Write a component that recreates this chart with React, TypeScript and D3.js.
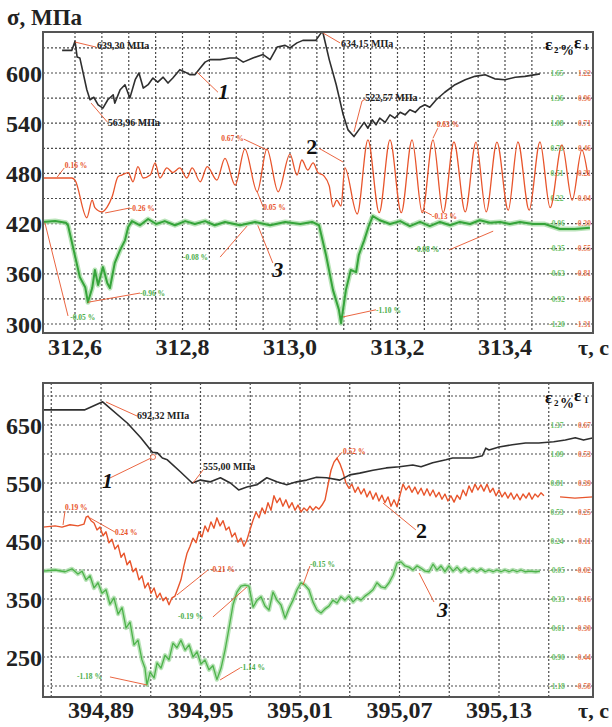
import * as d3 from 'd3';

type Pt = [number, number];

// ---------- top panel (312.6 – 313.4 s) ----------
const TOP_T_TICKS = [312.6, 312.8, 313.0, 313.2, 313.4];
const TOP_T_LABELS = ['312,6', '312,8', '313,0', '313,2', '313,4'];
const TOP_S_TICKS = [300, 360, 420, 480, 540, 600];
const TOP_EPS_S = [600, 570, 540, 510, 480, 450, 420, 390, 360, 330, 300];
const TOP_EPS2 = ['1.65', '1.36', '1.08', '0.79', '0.51', '0.22', '-0.06', '-0.35', '-0.63', '-0.92', '-1.20'];
const TOP_EPS1 = ['1.22', '0.96', '0.71', '0.46', '0.21', '-0.04', '-0.30', '-0.55', '-0.81', '-1.06', '-1.31'];

const TOP_SIGMA: Pt[] = [
  [312.576, 627], [312.594, 627], [312.6, 638], [312.604, 619], [312.609, 618], [312.622, 580], [312.628, 568],
  [312.635, 571], [312.643, 562], [312.652, 558], [312.661, 568], [312.671, 574], [312.674, 564], [312.684, 580],
  [312.693, 586], [312.702, 570], [312.712, 592], [312.719, 600], [312.727, 582], [312.736, 586], [312.745, 594],
  [312.754, 589], [312.764, 595], [312.773, 588], [312.782, 594], [312.795, 604], [312.805, 601], [312.814, 598],
  [312.823, 598], [312.833, 606], [312.842, 613], [312.851, 616], [312.87, 616], [312.888, 618], [312.901, 618],
  [312.913, 613], [312.931, 618], [312.95, 622], [312.963, 616], [312.976, 631], [312.991, 633], [313.0, 630],
  [313.013, 636], [313.024, 639], [313.048, 639], [313.058, 648], [313.061, 649], [313.073, 616], [313.086, 586],
  [313.099, 550], [313.108, 532], [313.119, 524], [313.128, 532], [313.138, 541], [313.145, 534], [313.153, 544],
  [313.16, 538], [313.167, 546], [313.177, 541], [313.186, 550], [313.195, 546], [313.205, 553], [313.214, 550],
  [313.223, 556], [313.233, 553], [313.242, 559], [313.251, 562], [313.26, 559], [313.272, 568], [313.288, 577],
  [313.307, 586], [313.326, 592], [313.344, 596], [313.363, 598], [313.381, 593], [313.4, 592], [313.419, 595],
  [313.437, 596], [313.465, 599],
];

const TOP_EPS1_CURVE: Pt[] = [
  [312.54, 474.5], [312.594, 474.5], [312.6, 472], [312.622, 427], [312.632, 448], [312.637, 439], [312.65, 434],
  [312.66, 440], [312.669, 452], [312.68, 476], [312.687, 478], [312.699, 481], [312.708, 470], [312.717, 488],
  [312.727, 474.5], [312.74, 478], [312.749, 492.5], [312.758, 474.5], [312.771, 486.5], [312.782, 481],
  [312.795, 486.5], [312.808, 474.5], [312.818, 486.5], [312.833, 470], [312.846, 488], [312.864, 472],
  [312.879, 498], [312.898, 466], [312.916, 509], [312.939, 458], [312.957, 509], [312.978, 458], [313.0, 503],
  [313.013, 478], [313.022, 496], [313.033, 484], [313.043, 492.5], [313.052, 481], [313.063, 477], [313.073, 465],
  [313.08, 440], [313.087, 448], [313.095, 441], [313.102, 486.5], [313.125, 431.5], [313.145, 520], [313.166, 433],
  [313.186, 520], [313.207, 433], [313.227, 520], [313.246, 433], [313.266, 520], [313.285, 433], [313.305, 517.5],
  [313.326, 434], [313.346, 517.5], [313.365, 434], [313.385, 517.5], [313.406, 436], [313.424, 517.5],
  [313.445, 436], [313.465, 517.5], [313.484, 439], [313.506, 514], [313.525, 448], [313.543, 508], [313.554, 478],
];

const TOP_EPS2_CURVE: Pt[] = [
  [312.54, 422], [312.563, 423], [312.583, 421], [312.587, 418], [312.606, 364.5], [312.609, 356], [312.619, 344],
  [312.624, 326], [312.632, 343], [312.637, 364.5], [312.643, 346.5], [312.652, 368], [312.66, 349], [312.665, 343],
  [312.674, 373], [312.684, 388.5], [312.693, 400], [312.699, 416], [312.706, 423], [312.721, 418], [312.736, 425.5],
  [312.751, 419.5], [312.767, 423], [312.786, 418], [312.805, 423], [312.823, 419.5], [312.842, 423], [312.86, 418],
  [312.879, 422], [312.907, 418], [312.935, 422], [312.963, 418], [312.991, 422], [313.019, 419.5], [313.041, 422],
  [313.054, 418], [313.067, 382.5], [313.08, 340.5], [313.091, 317], [313.095, 301], [313.104, 340.5],
  [313.113, 364.5], [313.123, 362], [313.128, 382.5], [313.138, 400], [313.147, 418], [313.154, 429], [313.167, 424],
  [313.186, 419.5], [313.205, 423], [313.223, 417], [313.242, 422], [313.26, 417], [313.279, 422], [313.298, 418],
  [313.316, 422], [313.335, 419.5], [313.353, 424], [313.372, 421], [313.391, 422], [313.409, 419.5], [313.428, 422],
  [313.452, 419.5], [313.474, 419.5], [313.502, 413.5], [313.53, 413.5], [313.558, 415],
];

// ---------- bottom panel (394.89 – 395.13 s) ----------
const BOT_T_TICKS = [394.89, 394.95, 395.01, 395.07, 395.13];
const BOT_T_LABELS = ['394,89', '394,95', '395,01', '395,07', '395,13'];
const BOT_S_TICKS = [250, 350, 450, 550, 650];
const BOT_EPS_S = [650, 600, 550, 500, 450, 400, 350, 300, 250, 200];
const BOT_EPS2 = ['1.37', '1.09', '0.81', '0.53', '0.24', '-0.05', '-0.33', '-0.61', '-0.90', '-1.18'];
const BOT_EPS1 = ['0.67', '0.53', '0.39', '0.25', '0.11', '-0.02', '-0.16', '-0.30', '-0.44', '-0.58'];

const BOT_SIGMA: Pt[] = [
  [394.855, 676], [394.88, 676], [394.891, 690], [394.906, 653], [394.914, 628], [394.921, 603], [394.924, 602],
  [394.927, 593], [394.93, 590], [394.938, 569], [394.945, 550], [394.95, 555], [394.956, 552], [394.962, 559],
  [394.968, 550], [394.973, 538], [394.978, 543], [394.984, 547], [394.99, 559], [394.996, 552], [395.002, 547],
  [395.008, 552], [395.014, 555], [395.02, 560], [395.026, 559], [395.034, 555], [395.04, 564], [395.046, 567],
  [395.054, 572], [395.062, 576], [395.07, 578], [395.078, 581], [395.083, 578], [395.09, 585], [395.098, 590],
  [395.102, 593], [395.108, 593], [395.114, 593], [395.12, 597], [395.122, 610], [395.124, 607], [395.13, 612],
  [395.138, 616], [395.146, 619], [395.154, 619], [395.163, 621], [395.17, 624], [395.176, 628], [395.181, 624],
  [395.187, 628],
];

const BOT_EPS1_CURVE: Pt[] = [
  [394.855, 474], [394.8623, 476], [394.8665, 474], [394.8713, 478], [394.8761, 476], [394.8797, 479], [394.881, 491],
  [394.8822, 493], [394.884, 485], [394.8858, 481], [394.8876, 469], [394.8894, 474], [394.8912, 459], [394.893, 466],
  [394.8948, 447], [394.8966, 453], [394.8984, 436], [394.9003, 443], [394.9021, 422], [394.9039, 429],
  [394.9057, 409], [394.9075, 416], [394.9093, 397], [394.9111, 403], [394.9129, 383], [394.9147, 390],
  [394.9165, 369], [394.9184, 378], [394.9202, 360], [394.922, 369], [394.9238, 352], [394.9256, 360],
  [394.9274, 347], [394.9292, 353], [394.931, 340], [394.9328, 352], [394.9346, 355], [394.9364, 369],
  [394.9382, 383], [394.94, 407], [394.9419, 429], [394.9437, 441], [394.9455, 455], [394.9473, 447],
  [394.9491, 466], [394.9509, 457], [394.9527, 476], [394.9545, 466], [394.9563, 483], [394.9581, 472],
  [394.9599, 490], [394.9618, 476], [394.9636, 485], [394.9654, 469], [394.9672, 474], [394.969, 457],
  [394.9708, 464], [394.9726, 448], [394.9744, 455], [394.9762, 441], [394.978, 452], [394.9798, 469],
  [394.9817, 486], [394.9835, 500], [394.9853, 490], [394.9871, 507], [394.9889, 497], [394.9907, 516],
  [394.9925, 503], [394.9943, 528], [394.9961, 516], [394.9979, 524], [394.9997, 510], [395.0015, 521],
  [395.0034, 507], [395.0052, 516], [395.007, 503], [395.0088, 512], [395.0106, 500], [395.0124, 507],
  [395.0142, 502], [395.016, 510], [395.0178, 503], [395.0196, 509], [395.0214, 505], [395.0233, 512],
  [395.0251, 521], [395.0269, 547], [395.0287, 572], [395.0305, 586], [395.0323, 593], [395.0341, 583],
  [395.0359, 569], [395.0377, 550], [395.0395, 541], [395.0413, 548], [395.0432, 534], [395.045, 543],
  [395.0468, 531], [395.0486, 540], [395.0504, 526], [395.0522, 536], [395.054, 522], [395.0558, 533],
  [395.0576, 519], [395.0594, 529], [395.0612, 516], [395.0631, 526], [395.0649, 510], [395.0667, 521],
  [395.0685, 509], [395.0703, 529], [395.0721, 548], [395.0739, 538], [395.0757, 545], [395.0775, 534],
  [395.0793, 543], [395.0811, 531], [395.083, 541], [395.0848, 529], [395.0866, 540], [395.0884, 528],
  [395.0902, 538], [395.092, 526], [395.0938, 534], [395.0956, 522], [395.0974, 531], [395.0992, 519],
  [395.101, 528], [395.1029, 517], [395.1047, 529], [395.1065, 522], [395.1083, 538], [395.1101, 528],
  [395.1119, 545], [395.1137, 534], [395.1155, 548], [395.1173, 538], [395.1191, 547], [395.1209, 536],
  [395.1228, 548], [395.1246, 534], [395.1264, 541], [395.1282, 528], [395.13, 538], [395.1318, 526],
  [395.1336, 534], [395.1354, 524], [395.1372, 533], [395.139, 522], [395.1408, 531], [395.1427, 521],
  [395.1445, 531], [395.1463, 524], [395.1481, 533], [395.1499, 522], [395.1517, 531], [395.1535, 526],
  [395.1553, 533], [395.1571, 528],
];
const BOT_EPS1_TAIL: Pt[] = [[395.1668, 526], [395.1758, 524], [395.1867, 526]];

const BOT_EPS2_CURVE: Pt[] = [
  [394.855, 398], [394.8623, 400], [394.8683, 397], [394.8725, 402], [394.8761, 393], [394.8786, 398],
  [394.881, 383], [394.8834, 390], [394.8858, 369], [394.8882, 378], [394.8906, 360], [394.893, 366],
  [394.8954, 341], [394.8978, 352], [394.9003, 324], [394.9027, 335], [394.9051, 300], [394.9075, 310],
  [394.9099, 271], [394.9123, 279], [394.9147, 245], [394.9165, 231], [394.9177, 202], [394.9196, 224],
  [394.922, 214], [394.9238, 240], [394.9262, 231], [394.9286, 253], [394.931, 245], [394.9334, 274],
  [394.9358, 266], [394.9382, 279], [394.9407, 262], [394.9431, 271], [394.9455, 250], [394.9479, 259],
  [394.9503, 238], [394.9527, 245], [394.9551, 228], [394.9575, 235], [394.9599, 211], [394.9624, 231],
  [394.9648, 262], [394.9672, 300], [394.9696, 340], [394.972, 362], [394.9744, 372], [394.9768, 374],
  [394.9792, 372], [394.9817, 336], [394.9841, 348], [394.9865, 354], [394.9889, 338], [394.9913, 331],
  [394.9937, 362], [394.9961, 348], [394.9985, 340], [395.001, 317], [395.0034, 334], [395.0058, 348],
  [395.0082, 366], [395.0106, 378], [395.013, 374], [395.0154, 366], [395.0178, 345], [395.0202, 331],
  [395.0227, 326], [395.0251, 333], [395.0275, 338], [395.0299, 348], [395.0323, 343], [395.0347, 354],
  [395.0371, 348], [395.0395, 355], [395.042, 345], [395.0444, 352], [395.0468, 348], [395.0492, 355],
  [395.0516, 360], [395.054, 366], [395.0564, 378], [395.0588, 371], [395.0613, 369], [395.0637, 378],
  [395.0661, 391], [395.0685, 412], [395.0709, 414], [395.0733, 407], [395.0757, 405], [395.0781, 400],
  [395.0805, 407], [395.083, 403], [395.0854, 398], [395.0878, 397], [395.0902, 410], [395.0926, 400],
  [395.095, 407], [395.0974, 397], [395.0998, 407], [395.1023, 398], [395.1047, 405], [395.1071, 397],
  [395.1095, 403], [395.1119, 397], [395.1143, 402], [395.1167, 397], [395.1191, 402], [395.1216, 397],
  [395.124, 400], [395.1264, 397], [395.1288, 400], [395.1312, 397], [395.1336, 400], [395.136, 397],
  [395.1384, 400], [395.1408, 397], [395.1433, 400], [395.1457, 397], [395.1487, 398], [395.1523, 397],
  [395.1547, 398],
];

type Kind = 'mpa' | 'red' | 'green' | 'numItalic' | 'num';
type Note = { text: string; kind: Kind; at: Pt; line: Pt[]; dot?: Pt };

const TOP_NOTES: Note[] = [
  { text: '639,30 МПа', kind: 'mpa', at: [312.641, 628.7], line: [[312.6, 637], [312.639, 631]] },
  { text: '563,96 МПа', kind: 'mpa', at: [312.661, 536.7], line: [[312.63, 564], [312.66, 541.5]] },
  { text: '1', kind: 'numItalic', at: [312.866, 569], line: [[312.827, 601], [312.866, 577]] },
  { text: '634,15 МПа', kind: 'mpa', at: [313.095, 631], line: [[313.061, 648], [313.093, 636]] },
  { text: '522,57 МПа', kind: 'mpa', at: [313.14, 566.5], line: [[313.119, 529.5], [313.134, 566.5], [313.141, 569]] },
  { text: '2', kind: 'num', at: [313.03, 503], line: [[313.054, 510], [313.099, 493.5]] },
  { text: '0.67 %', kind: 'red', at: [312.872, 518.7], line: [[312.914, 521], [312.957, 508]] },
  { text: '0.05 %', kind: 'red', at: [312.95, 436], line: [[312.939, 458], [312.95, 440]] },
  { text: '0.16 %', kind: 'red', at: [312.581, 486.5], line: [[312.567, 475.7], [312.58, 486.5]] },
  { text: '-0.26 %', kind: 'red', at: [312.702, 435], line: [[312.656, 432.7], [312.702, 438.7]] },
  { text: '0.63 %', kind: 'red', at: [313.273, 535.5], line: [[313.266, 522], [313.275, 534]] },
  { text: '-0.13 %', kind: 'red', at: [313.264, 425.5], line: [[313.246, 436], [313.264, 430]] },
  { text: '-0.08 %', kind: 'green', at: [312.801, 376.5], line: [[312.87, 380], [312.92, 417]] },
  { text: '3', kind: 'numItalic', at: [312.967, 356], line: [[312.94, 418], [312.968, 373]] },
  { text: '-0.96 %', kind: 'green', at: [312.721, 333.5], line: [[312.624, 326], [312.721, 337]] },
  { text: '-0.05 %', kind: 'green', at: [312.591, 305], line: [[312.544, 421], [312.587, 309.6]] },
  { text: '-1.10 %', kind: 'green', at: [313.16, 313], line: [[313.099, 308.5], [313.16, 317]] },
  { text: '-0.08 %', kind: 'green', at: [313.231, 386], line: [[313.296, 388.5], [313.378, 411]] },
];

const BOT_NOTES: Note[] = [
  { text: '692,32 МПа', kind: 'mpa', at: [394.9117, 660.3], line: [[394.893, 689.7], [394.9117, 665.5]] },
  { text: '555,00 МПа', kind: 'mpa', at: [394.9515, 572.4], line: [[394.9455, 550], [394.9515, 572.4]] },
  { text: '1', kind: 'numItalic', at: [394.8906, 541.4], line: [[394.8954, 558.6], [394.9214, 594.8]], dot: [394.9214, 594.8] },
  { text: '0.19 %', kind: 'red', at: [394.8683, 503.5], line: [[394.8671, 477.6], [394.8683, 501.7]] },
  { text: '0.24 %', kind: 'red', at: [394.8984, 460.4], line: [[394.8834, 489.7], [394.8984, 465.5]] },
  { text: '-0.21 %', kind: 'red', at: [394.9557, 396.6], line: [[394.9358, 356.9], [394.9545, 400]] },
  { text: '0.52 %', kind: 'red', at: [395.0359, 600], line: [[395.0323, 593], [395.0353, 603]] },
  { text: '2', kind: 'num', at: [395.0799, 455.2], line: [[395.06, 515.5], [395.0799, 469]] },
  { text: '-0.19 %', kind: 'green', at: [394.9364, 315.5], line: [[394.9575, 319], [394.978, 370.7]] },
  { text: '-1.18 %', kind: 'green', at: [394.8755, 212], line: [[394.8954, 215.6], [394.9177, 201.8]] },
  { text: '-1.14 %', kind: 'green', at: [394.9738, 227.6], line: [[394.9618, 210.4], [394.9738, 231]] },
  { text: '3', kind: 'numItalic', at: [395.0926, 319], line: [[395.0818, 394.8], [395.0908, 344.8]] },
  { text: '-0.15 %', kind: 'green', at: [395.016, 405.2], line: [[395.0118, 374.2], [395.016, 407]] },
];

const SERIF = '"Liberation Serif", "DejaVu Serif", serif';
const BLACK = '#2f2f2f';
const RED = '#e8552c';
const GREEN = '#35a43a';
const GREEN_HALO = '#a8dca6';
const GRID = '#4a4a4a';

type Scale = d3.ScaleLinear<number, number>;
type Series = { data: Pt[]; color: string; width: number; halo?: string; smooth?: boolean };

type PanelProps = {
  x: Scale;
  y: Scale;
  box: { left: number; right: number; top: number; bottom: number };
  gridT: number[];
  gridS: number[];
  tTicks: number[];
  tLabels: string[];
  sTicks: number[];
  epsS: number[];
  eps2: string[];
  eps1: string[];
  series: Series[];
  notes: Note[];
  tickBaseline: number;
  headerY: number;
};

const noteStyle = (kind: Kind) => {
  if (kind === 'mpa') return { fontSize: 10, fill: '#222', fontStyle: 'normal' };
  if (kind === 'red') return { fontSize: 7.5, fill: RED, fontStyle: 'normal' };
  if (kind === 'green') return { fontSize: 7.5, fill: '#4cae4c', fontStyle: 'normal' };
  if (kind === 'numItalic') return { fontSize: 22, fill: '#111', fontStyle: 'italic' };
  return { fontSize: 22, fill: '#111', fontStyle: 'normal' };
};

const Panel = (p: PanelProps) => {
  const { x, y, box } = p;
  const mk = (smooth?: boolean) =>
    d3
      .line<Pt>()
      .x((d) => x(d[0]))
      .y((d) => y(d[1]))
      .curve(smooth ? d3.curveMonotoneX : d3.curveLinear);
  const straight = mk(false);

  return (
    <g>
      <rect x={box.left} y={box.top} width={box.right - box.left} height={box.bottom - box.top} fill="#fff" />
      {/* grid */}
      {p.gridT.map((t) => (
        <line key={`gt${t}`} x1={x(t)} x2={x(t)} y1={box.top} y2={box.bottom} stroke={GRID} strokeWidth={1.2} strokeDasharray="2 2" />
      ))}
      {p.gridS.map((s) => (
        <line key={`gs${s}`} x1={box.left} x2={box.right} y1={y(s)} y2={y(s)} stroke={GRID} strokeWidth={1.2} strokeDasharray="2 2" />
      ))}
      {/* right-hand strain labels */}
      {p.epsS.map((s, i) => (
        <g key={`e${s}`} fontFamily={SERIF} fontSize={7.5} fontWeight={700}>
          <text x={557} y={y(s) + 2.6} textAnchor="middle" fill="#6cc36a">{p.eps2[i]}</text>
          <text x={591} y={y(s) + 2.6} textAnchor="end" fill="#ec7a55">{p.eps1[i]}</text>
        </g>
      ))}
      {/* curves */}
      {p.series.map((s, i) => (
        <g key={`s${i}`}>
          {s.halo && (
            <path d={mk(s.smooth)(s.data) ?? ''} fill="none" stroke={s.halo} strokeWidth={s.width + 3} strokeLinejoin="round" opacity={0.8} />
          )}
          <path d={mk(s.smooth)(s.data) ?? ''} fill="none" stroke={s.color} strokeWidth={s.width} strokeLinejoin="round" />
        </g>
      ))}
      {/* annotations */}
      {p.notes.map((n, i) => {
        const st = noteStyle(n.kind);
        return (
          <g key={`n${i}`}>
            <path d={straight(n.line) ?? ''} fill="none" stroke={RED} strokeWidth={0.9} />
            {n.dot && <circle cx={x(n.dot[0])} cy={y(n.dot[1])} r={2.5} fill="#fff" stroke={RED} strokeWidth={0.8} />}
            <text
              x={x(n.at[0])}
              y={y(n.at[1])}
              fontFamily={SERIF}
              fontSize={st.fontSize}
              fontWeight={700}
              fontStyle={st.fontStyle}
              fill={st.fill}
            >
              {n.text}
            </text>
          </g>
        );
      })}
      {/* frame */}
      <rect x={box.left} y={box.top} width={box.right - box.left} height={box.bottom - box.top} fill="none" stroke="#555" strokeWidth={2} />
      {/* strain header */}
      <g fontFamily={SERIF} fontWeight={700} fill="#111">
        <text x={545} y={p.headerY} fontSize={17}>ε</text>
        <text x={554} y={p.headerY + 3} fontSize={9}>2</text>
        <text x={560} y={p.headerY + 5} fontSize={14}>%</text>
        <text x={574} y={p.headerY - 2} fontSize={17}>ε</text>
        <text x={584} y={p.headerY} fontSize={9}>1</text>
      </g>
      {/* axes labels */}
      <g fontFamily={SERIF} fontSize={24} fontWeight={700} fill="#222">
        {p.sTicks.map((s) => (
          <text key={`ys${s}`} x={box.left - 1} y={y(s) + 8.5} textAnchor="end">{s}</text>
        ))}
        {p.tTicks.map((t, i) => (
          <text key={`xt${t}`} x={x(t)} y={p.tickBaseline} textAnchor="middle">{p.tLabels[i]}</text>
        ))}
        <text x={578} y={p.tickBaseline} fontSize={22}>τ, c</text>
      </g>
    </g>
  );
};

export default function App() {
  const xTop = d3.scaleLinear().domain([312.6, 313.4]).range([75, 505]);
  const yTop = d3.scaleLinear().domain([300, 600]).range([324, 73]);
  const xBot = d3.scaleLinear().domain([394.89, 395.13]).range([101, 499]);
  const yBot = d3.scaleLinear().domain([250, 650]).range([657, 425]);

  const topGridT = d3.range(0, 18).map((i) => 312.6 + i * 0.05);
  const topGridS = d3.range(300, 631, 30);
  const botGridT = d3.range(0, 11).map((i) => 394.86 + i * 0.03);
  const botGridS = d3.range(200, 701, 50);

  return (
    <div style={{ position: 'absolute', left: 0, top: 0, width: 612, height: 727, background: '#fff' }}>
      <svg width={612} height={727} viewBox="0 0 612 727">
        <rect width={612} height={727} fill="#fff" />
        <text x={7} y={25} fontFamily={SERIF} fontSize={23} fontWeight={700} fill="#222">σ, МПа</text>
        <Panel
          x={xTop}
          y={yTop}
          box={{ left: 43, right: 593, top: 32, bottom: 333 }}
          gridT={topGridT}
          gridS={topGridS}
          tTicks={TOP_T_TICKS}
          tLabels={TOP_T_LABELS}
          sTicks={TOP_S_TICKS}
          epsS={TOP_EPS_S}
          eps2={TOP_EPS2}
          eps1={TOP_EPS1}
          series={[
            { data: TOP_EPS2_CURVE, color: GREEN, width: 2, halo: GREEN_HALO },
            { data: TOP_EPS1_CURVE, color: RED, width: 1.3, smooth: true },
            { data: TOP_SIGMA, color: BLACK, width: 1.6 },
          ]}
          notes={TOP_NOTES}
          tickBaseline={355}
          headerY={50}
        />
        <Panel
          x={xBot}
          y={yBot}
          box={{ left: 43, right: 593, top: 383, bottom: 697 }}
          gridT={botGridT}
          gridS={botGridS}
          tTicks={BOT_T_TICKS}
          tLabels={BOT_T_LABELS}
          sTicks={BOT_S_TICKS}
          epsS={BOT_EPS_S}
          eps2={BOT_EPS2}
          eps1={BOT_EPS1}
          series={[
            { data: BOT_EPS2_CURVE, color: '#4db34a', width: 1.3, halo: GREEN_HALO },
            { data: BOT_EPS1_CURVE, color: RED, width: 1.4 },
            { data: BOT_EPS1_TAIL, color: RED, width: 1.4 },
            { data: BOT_SIGMA, color: BLACK, width: 1.6 },
          ]}
          notes={BOT_NOTES}
          tickBaseline={718}
          headerY={403}
        />
      </svg>
    </div>
  );
}
